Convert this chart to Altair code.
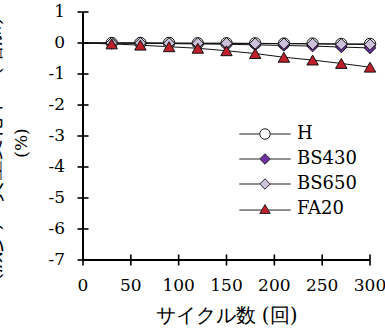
import altair as alt
import pandas as pd

# Cycles (回) and mass change (%) for each mix
cycles = [30, 60, 90, 120, 150, 180, 210, 240, 270, 300]
series_names = ["H", "BS430", "BS650", "FA20"]
h_vals = [0.0, 0.0, 0.0, -0.01, -0.01, -0.01, -0.02, -0.02, -0.03, -0.03]
bs430_vals = [0.0, -0.01, -0.02, -0.03, -0.04, -0.06, -0.08, -0.10, -0.13, -0.16]
bs650_vals = [0.0, 0.0, -0.01, -0.01, -0.01, -0.02, -0.02, -0.03, -0.04, -0.05]
fa20_vals = [-0.03, -0.07, -0.12, -0.17, -0.25, -0.34, -0.46, -0.55, -0.66, -0.78]
x_ticks = [0, 50, 100, 150, 200, 250, 300]
y_ticks = [-7, -6, -5, -4, -3, -2, -1, 0, 1]
x_title = ["サイクル数 (回)"]
y_title = ["(減少)\u3000質量変化率\u3000(増加)"]
y_unit = ["(%)"]

fill_colors = ["#FFFFFF", "#7030A0", "#CCC0DA", "#C0202A"]
marker_shapes = ["circle", "diamond", "diamond", "triangle-up"]

# legend glyphs: a short line with the marker in the middle
legend_paths = [
    "M-4.9,0H-1M1,0H4.9M-1,0A1,1,0,1,1,1,0A1,1,0,1,1,-1,0Z",
    "M-4.9,0H-1M1,0H4.9M-1,0L0,-1L1,0L0,1Z",
    "M-4.9,0H-1M1,0H4.9M-1,0L0,-1L1,0L0,1Z",
    "M-4.9,0.2H-0.6M0.6,0.2H4.9M0,-0.85L1,0.85L-1,0.85Z",
]

rows = []
for name, vals in zip(series_names, [h_vals, bs430_vals, bs650_vals, fa20_vals]):
    for c, v in zip(cycles, vals):
        rows.append({"series": name, "cycle": c, "change": v})
points = pd.DataFrame(rows)

line_rows = [{"series": n, "cycle": 0, "change": 0.0} for n in series_names] + rows
lines_df = pd.DataFrame(line_rows)

xt_df = pd.DataFrame({"v": x_ticks, "label": [str(v) for v in x_ticks]})
yt_df = pd.DataFrame({"v": y_ticks, "label": [str(v) for v in y_ticks]})

SERIF = "DejaVu Serif"

x_scale = alt.Scale(domain=[0, 300], nice=False, zero=False)
y_scale = alt.Scale(domain=[-7, 1], nice=False, zero=False)
W, H = 287, 248

legend_layer = alt.Chart(points).mark_point(
    filled=True, size=110, strokeWidth=1, opacity=0
).encode(
    x=alt.X("cycle:Q", scale=x_scale, axis=None),
    y=alt.Y("change:Q", scale=y_scale, axis=None),
    shape=alt.Shape(
        "series:N",
        scale=alt.Scale(domain=series_names, range=legend_paths),
        legend=alt.Legend(
            title=None, orient="none", legendX=173, legendY=113,
            symbolOpacity=1, symbolStrokeWidth=1,
            symbolSize=110, labelFont=SERIF, labelFontSize=18, labelColor="#000",
            labelOffset=23, rowPadding=7, padding=0,
        ),
    ),
    fill=alt.Fill("series:N", scale=alt.Scale(domain=series_names, range=fill_colors)),
    stroke=alt.Stroke("series:N", scale=alt.Scale(domain=series_names, range=["#222"] * 4)),
)

base_lines = alt.Chart(lines_df).mark_line(color="#111", strokeWidth=1).encode(
    x=alt.X("cycle:Q", axis=None),
    y=alt.Y("change:Q", axis=None),
    detail="series:N",
)

markers = alt.Chart(points).mark_point(
    filled=True, size=130, stroke="#111", strokeWidth=1, opacity=1
).encode(
    x=alt.X("cycle:Q", axis=None),
    y=alt.Y("change:Q", axis=None),
    shape=alt.Shape("series:N", scale=alt.Scale(domain=series_names, range=marker_shapes), legend=None),
    fill=alt.Fill("series:N", scale=alt.Scale(domain=series_names, range=fill_colors), legend=None),
)

# axis lines
one = pd.DataFrame({"a": [0]})
y_line = alt.Chart(one).mark_rule(color="#000", strokeWidth=2).encode(
    x=alt.X(datum=0, axis=None), y=alt.Y(datum=-7, axis=None), y2=alt.datum(1)
)
x_line = alt.Chart(one).mark_rule(color="#000", strokeWidth=2).encode(
    x=alt.X(datum=0, axis=None), x2=alt.datum(300), y=alt.Y(datum=-7, axis=None)
)

# crossing tick marks drawn as short stroked glyphs centred on the axis lines
y_tick_marks = alt.Chart(yt_df).mark_point(
    shape="M-1,0H1", size=121, filled=False, stroke="#000", strokeWidth=1.6, opacity=1
).encode(y=alt.Y("v:Q", axis=None), x=alt.X(datum=0, axis=None))
x_tick_marks = alt.Chart(xt_df).mark_point(
    shape="M0,-1V1", size=121, filled=False, stroke="#000", strokeWidth=1.6, opacity=1
).encode(x=alt.X("v:Q", axis=None), y=alt.Y(datum=-7, axis=None))

y_labels = alt.Chart(yt_df).mark_text(
    align="right", baseline="middle", font=SERIF, fontSize=17, color="#000"
).encode(y=alt.Y("v:Q", axis=None), x=alt.value(-18), text="label:N")
x_labels = alt.Chart(xt_df).mark_text(
    align="center", baseline="middle", font=SERIF, fontSize=17, color="#000"
).encode(x=alt.X("v:Q", axis=None), y=alt.value(H + 26), text="label:N")

x_title_mark = alt.Chart(pd.DataFrame({"t": x_title})).mark_text(
    align="center", baseline="middle", font=SERIF, fontSize=20, color="#000"
).encode(x=alt.value(W / 2), y=alt.value(H + 56), text="t:N")
y_title_mark = alt.Chart(pd.DataFrame({"t": y_title})).mark_text(
    align="center", baseline="middle", angle=270, font=SERIF, fontSize=21, color="#000"
).encode(x=alt.value(-89), y=alt.value(137), text="t:N")
y_unit_mark = alt.Chart(pd.DataFrame({"t": y_unit})).mark_text(
    align="center", baseline="middle", angle=270, font=SERIF, fontSize=17, color="#000"
).encode(x=alt.value(-61), y=alt.value(131), text="t:N")

chart = alt.layer(
    legend_layer, base_lines, markers, y_line, x_line, y_tick_marks, x_tick_marks,
    y_labels, x_labels, x_title_mark, y_title_mark, y_unit_mark,
).resolve_scale(
    shape="independent", fill="independent", stroke="independent"
).properties(
    width=W, height=H,
    autosize=alt.AutoSizeParams(type="none"),
    padding={"left": 83, "top": 12, "right": 15, "bottom": 69},
    background="white",
).configure_view(stroke=None)

chart.save("out.html", embed_options={"renderer": "svg", "actions": False})
